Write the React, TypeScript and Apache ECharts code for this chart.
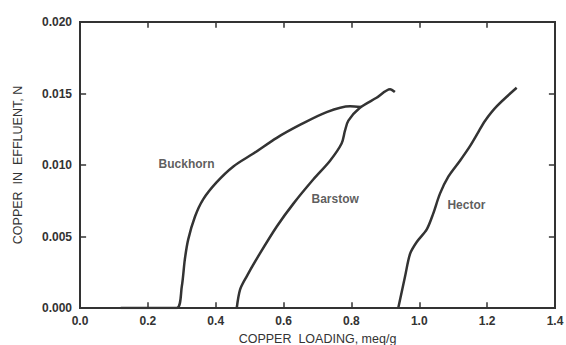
import React, { useEffect, useRef } from "react";
import * as echarts from "echarts";

const X_MIN = 0;
const X_MAX = 1.4;
const Y_MIN = 0;
const Y_MAX = 0.02;
const xTicks = [0, 0.2, 0.4, 0.6, 0.8, 1.0, 1.2, 1.4];
const yTicks = [0, 0.005, 0.01, 0.015, 0.02];

const buckhorn: [number, number][] = [
  [0.12, 0.0], [0.2, 0.0], [0.285, 0.0], [0.3, 0.0015], [0.309, 0.0034], [0.319, 0.0048],
  [0.339, 0.0064], [0.363, 0.0076], [0.403, 0.0088], [0.452, 0.0099],
  [0.511, 0.0108], [0.58, 0.0119], [0.648, 0.0128], [0.727, 0.0137],
  [0.796, 0.0141], [0.828, 0.01405],
];

const barstow: [number, number][] = [
  [0.462, 0.0], [0.472, 0.0013], [0.491, 0.0022], [0.53, 0.0038],
  [0.58, 0.0057], [0.629, 0.0073], [0.688, 0.009], [0.737, 0.0103],
  [0.771, 0.0115], [0.781, 0.0124], [0.791, 0.0131], [0.825, 0.014],
  [0.874, 0.0147], [0.914, 0.0153], [0.928, 0.0151],
];

const hector: [number, number][] = [
  [0.938, 0.0], [0.958, 0.0022], [0.973, 0.0038], [0.992, 0.0046],
  [1.022, 0.0055], [1.041, 0.0066], [1.061, 0.008], [1.086, 0.0092],
  [1.12, 0.0103], [1.149, 0.0113], [1.174, 0.0123], [1.194, 0.0131],
  [1.228, 0.0141], [1.287, 0.0154],
];

const labelNames = ["Buckhorn", "Barstow", "Hector"];
const labelPos: [number, number][] = [[0.314, 0.0101], [0.752, 0.0076], [1.139, 0.0072]];

const INK = "#333333";
const FONT = "Arial";
const TICK_Y = 0.0004;
const TICK_X = 0.018;

export default function App() {
  const ref = useRef<HTMLDivElement>(null);
  useEffect(() => {
    if (!ref.current) return;
    const chart = echarts.init(ref.current, undefined, { renderer: "svg" });
    const lineSeries = (name: string, data: [number, number][]) => ({
      type: "line",
      name,
      data,
      smooth: 0.3,
      showSymbol: false,
      symbol: "none",
      lineStyle: { color: INK, width: 2.5 },
    });
    const frameStyle = { lineStyle: { color: INK, width: 2, type: "solid" } };
    const frameLines: any[] = [
      [{ coord: [X_MIN, Y_MAX], ...frameStyle }, { coord: [X_MAX, Y_MAX] }],
      [{ coord: [X_MAX, Y_MIN], ...frameStyle }, { coord: [X_MAX, Y_MAX] }],
    ];
    xTicks.slice(1, -1).forEach((v) => {
      frameLines.push([{ coord: [v, Y_MAX] }, { coord: [v, Y_MAX - TICK_Y] }]);
      frameLines.push([{ coord: [v, Y_MIN] }, { coord: [v, Y_MIN + TICK_Y] }]);
    });
    yTicks.slice(1, -1).forEach((v) => {
      frameLines.push([{ coord: [X_MIN, v] }, { coord: [X_MIN + TICK_X, v] }]);
      frameLines.push([{ coord: [X_MAX, v] }, { coord: [X_MAX - TICK_X, v] }]);
    });
    chart.setOption({
      animation: false,
      grid: {
        left: 80, top: 22, right: 11, bottom: 37,
        outerBoundsMode: "none",
        containLabel: false,
        show: true, borderColor: INK, borderWidth: 2,
      },
      xAxis: {
        type: "value",
        min: X_MIN,
        max: X_MAX,
        interval: 0.2,
        axisLine: { show: true, lineStyle: { color: INK, width: 2 } },
        axisTick: { show: false },
        splitLine: { show: false },
        name: "COPPER  LOADING, meq/g",
        nameLocation: "middle",
        nameGap: 24,
        nameTextStyle: { color: INK, fontSize: 12.5, fontFamily: FONT },
        axisLabel: {
          show: true,
          color: INK,
          fontSize: 12,
          fontWeight: "bold",
          fontFamily: FONT,
          margin: 7,
          formatter: (v: number) => xTicks.includes(+(+v).toFixed(1)) ? (+v).toFixed(1) : "",
        },
      },
      yAxis: {
        type: "value",
        min: Y_MIN,
        max: Y_MAX,
        interval: 0.005,
        axisLine: { show: true, lineStyle: { color: INK, width: 2 } },
        axisTick: { show: false },
        splitLine: { show: false },
        name: "COPPER  IN  EFFLUENT, N",
        nameLocation: "middle",
        nameGap: 56,
        nameTextStyle: { color: INK, fontSize: 12.5, fontFamily: FONT },
        axisLabel: {
          show: true,
          color: INK,
          fontSize: 12,
          fontWeight: "bold",
          fontFamily: FONT,
          margin: 8,
          formatter: (v: number) => yTicks.some((t) => Math.abs(t - v) < 1e-9) ? (+v).toFixed(3) : "",
        },
      },
      series: [
        {
          type: "line",
          name: "frame",
          data: [[X_MIN, Y_MIN]],
          symbol: "none",
          showSymbol: false,
          lineStyle: { opacity: 0 },
          silent: true,
          markLine: {
            silent: true,
            symbol: ["none", "none"],
            label: { show: false },
            lineStyle: { color: INK, width: 1.5, type: "solid" },
            emphasis: { disabled: true },
            data: frameLines,
          },
        },
        lineSeries("Buckhorn", buckhorn),
        lineSeries("Barstow", barstow),
        lineSeries("Hector", hector),
        {
          type: "scatter",
          symbolSize: 0,
          data: labelPos.map((p, i) => ({ value: p, name: labelNames[i] })),
          label: {
            show: true,
            position: "inside",
            formatter: (p: any) => p.name,
            color: INK,
            fontSize: 12,
            fontWeight: "bold",
            fontFamily: FONT,
          },
          silent: true,
        },
      ],
    });
    return () => chart.dispose();
  }, []);
  return (
    <div
      ref={ref}
      style={{ position: "fixed", left: 0, top: 0, width: 566, height: 345, background: "#fff" }}
    />
  );
}
